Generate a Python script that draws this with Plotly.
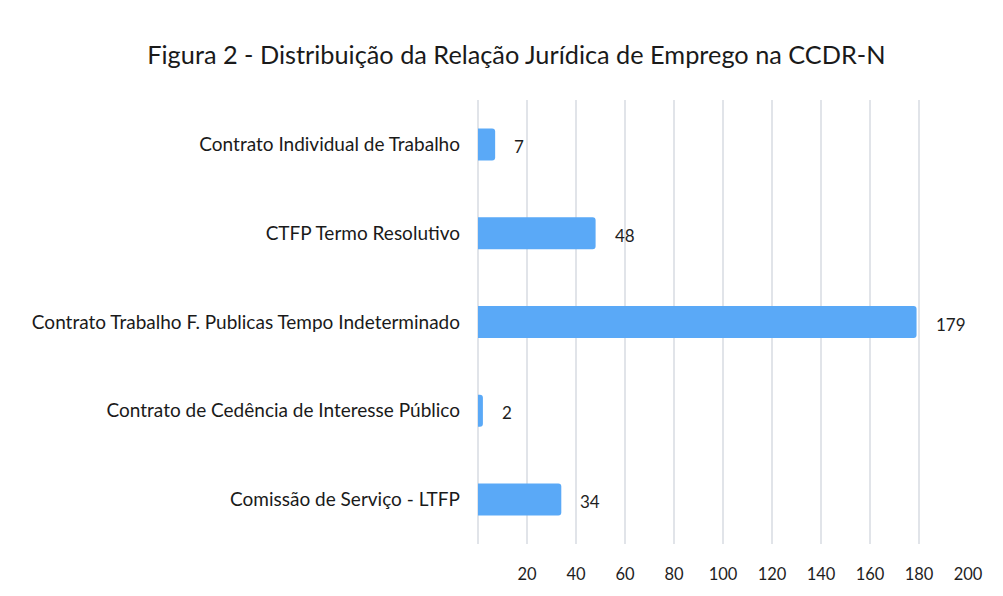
import plotly.graph_objects as go

categories = [
    "Contrato Individual de Trabalho",
    "CTFP Termo Resolutivo",
    "Contrato Trabalho F. Publicas Tempo Indeterminado",
    "Contrato de Cedência de Interesse Público",
    "Comissão de Serviço - LTFP",
]
values = [7, 48, 179, 2, 34]
tick_values = [20, 40, 60, 80, 100, 120, 140, 160, 180, 200]

FONT = "Lato"
BAR = "#5aa9f7"

fig = go.Figure()
fig.add_trace(go.Bar(
    y=categories, x=values, orientation="h",
    marker=dict(color=BAR, cornerradius=3, line=dict(width=0)),
    width=0.36, hoverinfo="skip",
))
for c, v in zip(categories, values):
    fig.add_annotation(x=v, y=c, text=str(v), showarrow=False,
                       xanchor="left", xshift=17, yshift=-2,
                       font=dict(family=FONT, size=17, color="#1e1e1e"))

fig.update_layout(
    width=995, height=588,
    paper_bgcolor="white", plot_bgcolor="white",
    margin=dict(l=470, r=35, t=92, b=48),
    showlegend=False,
    title=dict(text="Figura 2 - Distribuição da Relação Jurídica de Emprego na CCDR-N",
               x=0.511, xanchor="center", y=0.92, yanchor="middle",
               font=dict(family=FONT, size=25.3, color="#1a1a1a")),
    xaxis=dict(range=[0, 200], tickvals=tick_values, showgrid=True,
               gridcolor="#e1e4e9", gridwidth=1.5, zeroline=True,
               zerolinecolor="#e1e4e9", zerolinewidth=1.5, showline=False,
               ticks="", ticklabelstandoff=18,
               tickfont=dict(family=FONT, size=16.5, color="#1e1e1e")),
    yaxis=dict(autorange="reversed", showgrid=False, ticks="",
               ticklabelstandoff=17,
               tickfont=dict(family=FONT, size=19, color="#1a1a1a")),
)
fig.write_html("out.html")
